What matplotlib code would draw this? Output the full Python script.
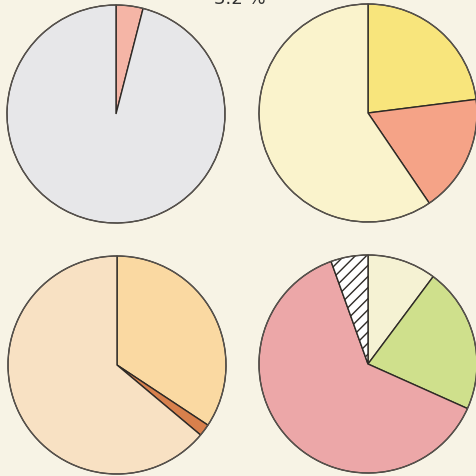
import numpy as np
import matplotlib.pyplot as plt

# Shares for each of the four pies, clockwise from 12 o'clock
shares_a = [4.0, 96.0]
shares_b = [23.0, 17.5, 59.5]
shares_c = [34.3, 1.8, 63.9]
shares_d = [10.2, 21.5, 62.8, 5.5]

colors_a = ['#f5b5a6', '#e7e7e9']
colors_b = ['#f8e57c', '#f5a387', '#faf3cc']
colors_c = ['#fad9a2', '#d8804c', '#f8e1c3']
colors_d = ['#f5f2d3', '#cfe08c', '#eca7a8', '#ffffff']
hatches_d = [None, None, None, '///']

# pie centres and radius in pixel units (y up)
centres = [(116, 362), (368, 363), (117, 111), (368, 112)]
radius = 109

bg = '#f7f3e5'
fig = plt.figure(figsize=(4.76, 4.77), dpi=100, facecolor=bg)
ax = fig.add_axes([0, 0, 1, 1])
ax.set_facecolor(bg)
ax.set_xlim(0, 476)
ax.set_ylim(0, 477)
ax.set_aspect('equal')
ax.axis('off')

plt.rcParams['hatch.linewidth'] = 1.0

all_shares = [shares_a, shares_b, shares_c, shares_d]
all_colors = [colors_a, colors_b, colors_c, colors_d]
for i in range(4):
    wedges, _ = ax.pie(all_shares[i], colors=all_colors[i], startangle=90,
                       counterclock=False, center=centres[i], radius=radius,
                       wedgeprops=dict(edgecolor='#2e2a26', linewidth=1.0))
    if i == 3:
        for w, h in zip(wedges, hatches_d):
            if h:
                w.set_hatch(h)
    # thin grey rim round each pie
    ax.add_patch(plt.Circle(centres[i], radius, fill=False,
                            edgecolor='#5a5550', linewidth=0.8))

ax.set_xlim(0, 476)
ax.set_ylim(0, 477)

# heading, mostly cut off by the top edge
fig.text(0.503, 1.0 - 4 / 477, '3.2 %', ha='center', va='baseline',
         fontsize=13, color='#333333')

fig.savefig('out.png', dpi=100, facecolor=bg)
